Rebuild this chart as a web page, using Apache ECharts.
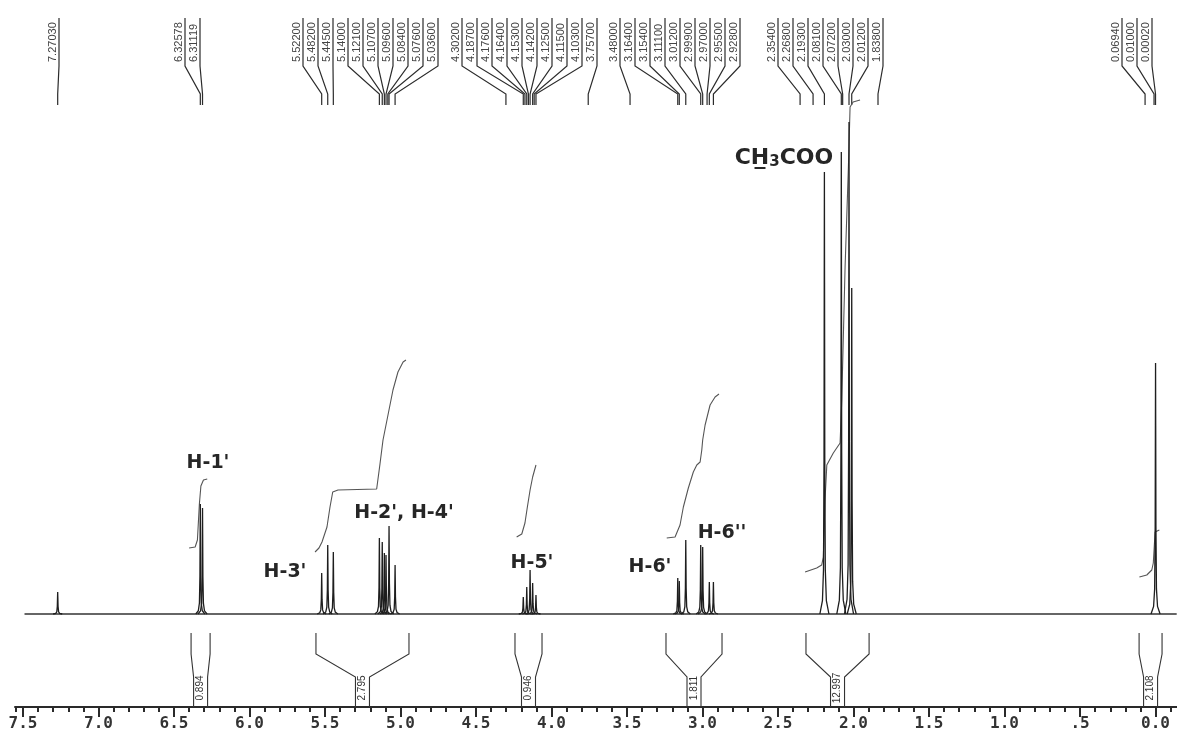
<!DOCTYPE html>
<html><head><meta charset="utf-8">
<script src="https://cdn.jsdelivr.net/npm/echarts@6/dist/echarts.min.js"></script>
<style>html,body{margin:0;padding:0;background:#fff}#c{width:1177px;height:740px}</style>
</head><body><div id="c"></div>
<script>
// ---------------- DATA ----------------
// spectrum baseline (ppm, intensity)
const spectrumBaseline = [[7.49, 0], [-0.14, 0]];
// resolved lines: chemical shift (ppm) and peak height (a.u.)
const peakShifts  = [7.2703, 6.3258, 6.3112, 5.522, 5.482, 5.445, 5.140, 5.121, 5.107, 5.096, 5.076, 5.036,
                     4.187, 4.164, 4.142, 4.125, 4.103, 3.164, 3.154, 3.111, 3.012, 2.999, 2.955, 2.928,
                     2.193, 2.081, 2.030, 2.012, 0.000];
const peakHeights = [22, 110, 106, 41, 69, 62, 76, 72, 61, 59, 88, 49,
                     17, 27, 44, 31, 19, 36, 33, 74, 69, 67, 32, 32,
                     442, 462, 492, 326, 251];
// integral traces (ppm, level)
const integralH1   = [[6.400,66],[6.360,67],[6.345,74],[6.332,110],[6.322,128],[6.305,134],[6.280,135]];
const integralH234 = [[5.566,62],[5.540,66],[5.520,72],[5.487,87],[5.467,107],[5.449,122],[5.414,124],[5.158,125],
                      [5.136,150],[5.116,174],[5.083,199],[5.050,224],[5.017,242],[4.983,252],[4.964,254]];
const integralH5   = [[4.231,77],[4.197,80],[4.176,91],[4.160,107],[4.142,124],[4.125,137],[4.103,149]];
const integralH6   = [[3.237,76],[3.182,77],[3.149,89],[3.127,107],[3.094,126],[3.061,142],[3.038,149],[3.016,152],
                      [3.005,164],[2.999,174],[2.983,189],[2.950,209],[2.917,217],[2.891,220]];
const integralAc   = [[2.321,42],[2.244,46],[2.211,49],[2.200,57],[2.189,114],[2.177,149],[2.134,161],[2.089,171],
                      [2.078,214],[2.056,347],[2.034,447],[2.023,507],[2.003,512],[1.957,514]];
const integralTMS  = [[0.107,37],[0.058,39],[0.025,44],[0.015,51],[0.003,82],[-0.025,84]];
// integration regions (ppm from, ppm to) and their values
const integralRegions = [[6.387,6.261],[5.560,4.944],[4.242,4.063],[3.242,2.871],[2.315,1.897],[0.109,-0.043]];
const integralValues  = ["0.894","2.795","0.946","1.811","12.997","2.108"];
// peak-picking labels (ppm), grouped
const pickGroups = [
  [7.27030],
  [6.32578, 6.31119],
  [5.52200, 5.48200, 5.44500, 5.14000, 5.12100, 5.10700, 5.09600, 5.08400, 5.07600, 5.03600],
  [4.30200, 4.18700, 4.17600, 4.16400, 4.15300, 4.14200, 4.12500, 4.11500, 4.10300, 3.75700],
  [3.48000, 3.16400, 3.15400, 3.11100, 3.01200, 2.99900, 2.97000, 2.95500, 2.92800],
  [2.35400, 2.26800, 2.19300, 2.08100, 2.07200, 2.03000, 2.01200, 1.83800],
  [0.06940, 0.01000, 0.00020]
];
// axis ticks
const majorTicks = [7.5,7.0,6.5,6.0,5.5,5.0,4.5,4.0,3.5,3.0,2.5,2.0,1.5,1.0,0.5,0.0];
const majorTickLabels = ["7.5","7.0","6.5","6.0","5.5","5.0","4.5","4.0","3.5","3.0","2.5","2.0","1.5","1.0",".5","0.0"];
const minorTicks = [7.55];
for (let i = 75; i >= -1; i--) minorTicks.push(i / 10);
// peak annotations
const annotations = ["H-1'", "H-3'", "H-2', H-4'", "H-5'", "H-6'", "H-6''"];

// ---------------- LAYOUT / STYLE ----------------
const X_MAX = 7.553, X_MIN = -0.142;
const annotationPos = [[208,463],[285,572],[404,513],[532,563],[650,567],[722,533]];
const PICK = { firstLineX: [59, 185, 303, 462, 620, 778, 1122], step: 15, yTop: 18, yKnee: 66, yTip: 94, yEnd: 105, yText: 62 };
const BR = { top: -19, bend: -40, inner: -63, bottom: -93, label: -74, halfWidth: 7 };
const PROFILE = [[0.030,0],[0.013,0.03],[0.006,0.1],[0.0025,0.35],[0.001,0.75],[0,1]];
const INK = '#1e1e1e';

const peakData = peakShifts.map((p, i) => [p, peakHeights[i]]);
const pickData = [];
pickGroups.forEach((g, gi) => g.forEach((p, i) => pickData.push([p, gi, i])));
const bracketData = integralRegions.map((r, i) => [r[0], r[1], i]);

function peakRender(params, api) {
  const p = api.value(0), h = api.value(1);
  const pts = [];
  for (let i = 0; i < PROFILE.length; i++) pts.push(api.coord([p + PROFILE[i][0], h * PROFILE[i][1]]));
  for (let i = PROFILE.length - 2; i >= 0; i--) pts.push(api.coord([p - PROFILE[i][0], h * PROFILE[i][1]]));
  return { type: 'polyline', shape: { points: pts }, style: { stroke: INK, lineWidth: 1.3, fill: null } };
}
function pickRender(params, api) {
  const ppm = api.value(0), g = api.value(1), i = api.value(2);
  const lx = PICK.firstLineX[g] + PICK.step * i;
  const tx = api.coord([ppm, 0])[0];
  return { type: 'group', children: [
    { type: 'polyline', shape: { points: [[lx, PICK.yTop], [lx, PICK.yKnee], [tx, PICK.yTip], [tx, PICK.yEnd]] },
      style: { stroke: '#2b2b2b', lineWidth: 1.2, fill: null } },
    { type: 'text', x: lx - 6, y: PICK.yText, rotation: Math.PI / 2,
      style: { text: ppm.toFixed(5), align: 'left', verticalAlign: 'middle', textAlign: 'left', textVerticalAlign: 'middle',
               font: '11px "Liberation Sans"', fill: '#444' } }
  ]};
}
function bracketRender(params, api) {
  const a = api.value(0), b = api.value(1), idx = api.value(2);
  const xa = api.coord([a, 0])[0], xb = api.coord([b, 0])[0];
  const xl = Math.min(xa, xb), xr = Math.max(xa, xb), xc = (xl + xr) / 2;
  const y = v => api.coord([0, v])[1];
  const st = { stroke: '#333', lineWidth: 1.1, fill: null };
  return { type: 'group', children: [
    { type: 'polyline', shape: { points: [[xl, y(BR.top)], [xl, y(BR.bend)], [xc - BR.halfWidth, y(BR.inner)], [xc - BR.halfWidth, y(BR.bottom)]] }, style: st },
    { type: 'polyline', shape: { points: [[xr, y(BR.top)], [xr, y(BR.bend)], [xc + BR.halfWidth, y(BR.inner)], [xc + BR.halfWidth, y(BR.bottom)]] }, style: st },
    { type: 'text', x: xc, y: y(BR.label), rotation: Math.PI / 2,
      style: { text: integralValues[idx], align: 'center', verticalAlign: 'middle', textAlign: 'center', textVerticalAlign: 'middle',
               font: '10px "Liberation Sans"', fill: '#333' } }
  ]};
}

const integralStyle = { color: '#555', width: 1.1 };
function integralSeries(d) {
  return { type: 'line', data: d, symbol: 'none', lineStyle: integralStyle, silent: true, z: 3 };
}

const annFont = 'bold 19px "DejaVu Sans"';
const graphics = annotations.map((t, i) => ({
  type: 'text', x: annotationPos[i][0], y: annotationPos[i][1],
  style: { text: t, font: annFont, fill: '#262626', align: 'center', verticalAlign: 'middle', textAlign: 'center', textVerticalAlign: 'middle' }
}));
graphics.push({
  type: 'text', x: 784, y: 158,
  style: {
    text: '{a|C}{a|H\u0332}{s|3}{a|COO}', align: 'center', verticalAlign: 'middle', textAlign: 'center', textVerticalAlign: 'middle',
    rich: {
      a: { font: 'bold 22px "DejaVu Sans"', fill: '#262626', lineHeight: 26 },
      s: { font: 'bold 15px "DejaVu Sans"', fill: '#262626', lineHeight: 26, padding: [9, 0, 0, 0] }
    }
  }
});

const chart = echarts.init(document.getElementById('c'), null, { renderer: 'canvas' });
chart.setOption({
  animation: false,
  backgroundColor: '#ffffff',
  grid: { left: 15, right: 0, top: 0, bottom: 33, containLabel: false },
  xAxis: [
    { type: 'value', inverse: true, min: X_MIN, max: X_MAX, position: 'bottom',
      axisLine: { show: true, onZero: false, lineStyle: { color: '#2a2a2a', width: 2 } },
      axisTick: { show: true, customValues: majorTicks, length: 10, lineStyle: { color: '#2a2a2a', width: 2 } },
      axisLabel: { show: true, customValues: majorTicks, margin: 9, color: '#333',
                   fontFamily: 'DejaVu Sans Mono', fontWeight: 'bold', fontSize: 16,
                   formatter: v => { const k = majorTicks.findIndex(m => Math.abs(m - v) < 1e-6); return k >= 0 ? majorTickLabels[k] : ''; } },
      splitLine: { show: false } },
    { type: 'value', inverse: true, min: X_MIN, max: X_MAX, position: 'bottom',
      axisLine: { show: false, onZero: false },
      axisTick: { show: true, customValues: minorTicks, length: 5, lineStyle: { color: '#2a2a2a', width: 2 } },
      axisLabel: { show: false },
      splitLine: { show: false } }
  ],
  yAxis: { type: 'value', min: -93, max: 614, show: false },
  graphic: graphics,
  series: [
    { type: 'line', data: spectrumBaseline, symbol: 'none', lineStyle: { color: '#333', width: 1.3 }, silent: true, z: 2 },
    { type: 'custom', renderItem: peakRender, data: peakData, encode: { x: 0, y: 1 }, clip: false, silent: true, z: 4 },
    integralSeries(integralH1), integralSeries(integralH234), integralSeries(integralH5),
    integralSeries(integralH6), integralSeries(integralAc), integralSeries(integralTMS),
    { type: 'custom', renderItem: bracketRender, data: bracketData, encode: { x: 0, y: 1 }, clip: false, silent: true },
    { type: 'custom', renderItem: pickRender, data: pickData, encode: { x: 0 }, clip: false, silent: true }
  ]
});
</script></body></html>
